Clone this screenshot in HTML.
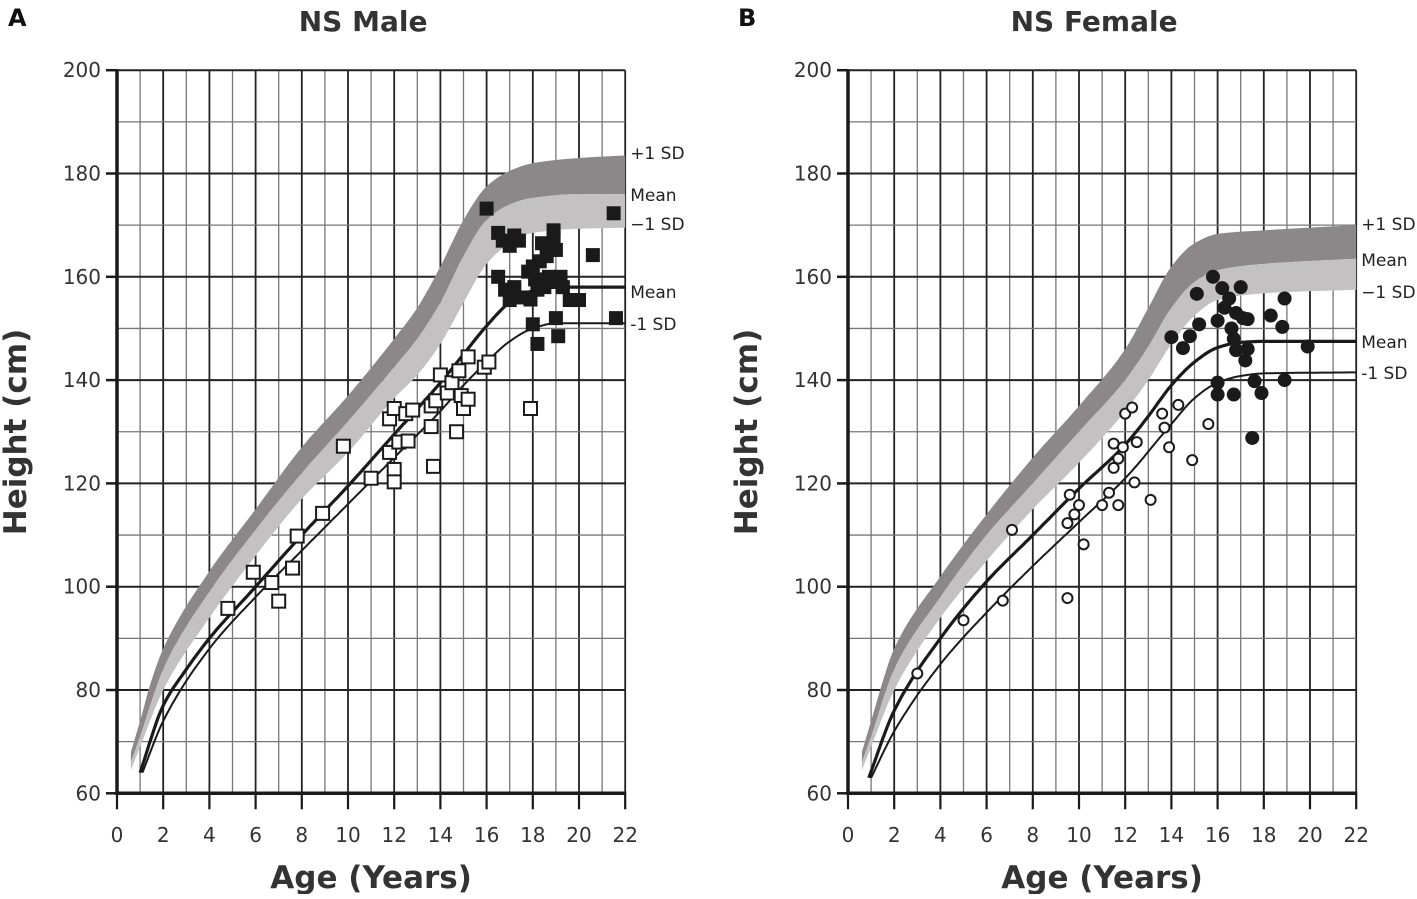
<!DOCTYPE html>
<html><head><meta charset="utf-8"><style>
body{margin:0;background:#fff;}
svg text{font-family:"DejaVu Sans","Liberation Sans",sans-serif;}
</style></head><body>
<svg id="chart" width="1417" height="894" viewBox="0 0 1417 894" xmlns="http://www.w3.org/2000/svg"></svg>
<script>
// ---- data ----
const xTicks = [0,2,4,6,8,10,12,14,16,18,20,22];
const yTicks = [60,80,100,120,140,160,180,200];
// Male reference bands (age, height)
const maleP1 = [[0.6,68],[1,74],[1.5,82],[2,88],[4,103],[6,115],[8,127],[10,137],[12,148],[13,154],[14,162],[15,171],[16,177.5],[17,180.5],[18,182],[20,183],[22,183.5]];
const maleRefMean = [[0.6,66],[1,71],[2,84],[4,99],[6,111],[8,122],[10,132],[12,142.5],[13,148],[14,155],[15,164],[16,171],[17,174],[18,175.3],[20,176],[22,176]];
const maleM1 = [[0.6,64.5],[1,69],[2,80],[4,94],[6,106],[8,117],[10,126],[12,136.5],[13,141],[14,147],[15,155],[16,162.5],[17,166.5],[18,168.5],[20,169.3],[22,169.5]];
const maleNSMean = [[1,64],[2,77],[3,84],[4,90],[6,100],[8,110],[10,119.5],[12,129.5],[14,139.5],[15,145],[16,150.5],[17,155],[18,157.3],[19,158],[22,158]];
const maleNSM1 = [[1.1,64],[2,74],[4,88],[6,98],[8,107],[10,116],[12,125],[14,134],[15,139],[16,143.5],[17,147.5],[18,150],[19,151],[22,151]];
const maleOpen = [[4.8,95.8],[5.9,102.8],[6.7,100.8],[7.0,97.2],[7.6,103.6],[7.8,109.8],[8.9,114.2],[9.8,127.2],[11.0,121],[11.8,126],[11.8,132.5],[12.0,134.5],[12.0,122.7],[12.0,120.3],[12.2,128],[12.5,133.5],[12.6,128.2],[12.8,134.2],[13.6,131],[13.6,135],[13.7,123.3],[13.8,136],[14.0,141],[14.3,137.5],[14.5,139.5],[14.7,130],[14.8,141.8],[14.9,137],[15.0,134.5],[15.2,136.3],[15.2,144.5],[15.9,142.5],[16.1,143.5],[17.9,134.5]];
const maleFilled = [[16.0,173.2],[21.5,172.3],[16.5,168.5],[16.7,167],[17.0,166],[17.2,168],[17.4,167],[16.5,160],[16.8,157.5],[17.0,155.5],[17.2,158],[17.5,156],[17.8,161],[18.0,162],[18.1,159.5],[18.2,157.5],[18.3,163],[18.4,166.5],[18.6,164],[18.9,167.5],[18.9,169],[19.0,165.2],[18.7,160],[19.0,159],[19.2,160],[19.3,158],[19.6,155.5],[18.0,150.8],[18.2,147],[19.0,152],[19.1,148.5],[20.0,155.5],[20.6,164.2],[21.6,152],[18.5,158],[17.9,155.6]];
// Female
const femP1 = [[0.6,68],[1,74],[2,88],[4,102],[6,114],[8,125],[10,135],[12,146],[13,154],[14,162],[15,166.5],[16,168.3],[18,169],[22,170]];
const femRefMean = [[0.6,66],[1,71],[2,84],[4,98],[6,110],[8,120],[10,130],[12,140],[13,146.5],[14,154],[15,159],[16,161.3],[18,162.5],[22,163.5]];
const femM1 = [[0.6,64.5],[1,69],[2,80],[4,94],[6,105],[8,115],[10,124],[12,134],[13,140],[14,147],[15,152.5],[16,155.5],[18,156.8],[22,157.5]];
const femNSMean = [[0.9,63],[2,76],[4,90],[6,101],[8,110],[10,119],[12,127.5],[13,133],[14,139],[15,143.5],[16,146.3],[17,147.3],[18,147.5],[22,147.5]];
const femNSM1 = [[1.0,63],[2,72],[4,85],[6,95],[8,104],[10,112.5],[12,121],[14,131.5],[15,136.5],[16,139.5],[17,140.8],[18,141.3],[22,141.5]];
const femOpen = [[3.0,83.2],[5.0,93.5],[6.7,97.3],[7.1,111],[9.5,97.8],[9.5,112.3],[9.6,117.8],[9.8,114],[10.0,115.8],[10.2,108.2],[11.0,115.8],[11.3,118.2],[11.5,123],[11.5,127.7],[11.7,115.8],[11.7,124.8],[11.9,127],[12.0,133.5],[12.3,134.7],[12.4,120.2],[12.5,128],[13.1,116.8],[13.6,133.5],[13.7,130.8],[13.9,127],[14.3,135.2],[14.9,124.5],[15.6,131.5]];
const femFilled = [[14.0,148.3],[14.5,146.2],[14.8,148.5],[15.1,156.7],[15.2,150.8],[15.8,160],[16.0,151.5],[16.0,139.5],[16.0,137.2],[16.2,157.8],[16.3,154],[16.5,155.8],[16.6,150],[16.7,148],[16.7,137.2],[16.8,145.8],[16.8,153],[17.0,158],[17.1,152],[17.2,143.8],[17.3,146],[17.5,128.8],[17.6,139.8],[17.9,137.5],[18.3,152.5],[18.8,150.3],[18.9,140],[18.9,155.8],[19.9,146.5],[17.3,151.8]];

const NS = "http://www.w3.org/2000/svg";
const svg = document.getElementById('chart');
function mk(tag, attrs, parent){const e=document.createElementNS(NS,tag);for(const k in attrs)e.setAttribute(k,attrs[k]);(parent||svg).appendChild(e);return e;}

// monotone cubic (Fritsch-Carlson) sampling in data space
function sample(pts){
  const n=pts.length, xs=pts.map(p=>p[0]), ys=pts.map(p=>p[1]);
  const d=[],m=[];
  for(let i=0;i<n-1;i++) d.push((ys[i+1]-ys[i])/(xs[i+1]-xs[i]));
  m[0]=d[0]; m[n-1]=d[n-2];
  for(let i=1;i<n-1;i++){
    if(d[i-1]*d[i]<=0) m[i]=0;
    else{const w1=2*(xs[i+1]-xs[i])+(xs[i]-xs[i-1]), w2=(xs[i+1]-xs[i])+2*(xs[i]-xs[i-1]);
      m[i]=(w1+w2)/(w1/d[i-1]+w2/d[i]);}
  }
  const out=[];
  for(let i=0;i<n-1;i++){
    const h=xs[i+1]-xs[i], steps=Math.max(2,Math.ceil(h/0.1));
    for(let s=0;s<steps;s++){
      const t=s/steps, t2=t*t, t3=t2*t;
      const y=(2*t3-3*t2+1)*ys[i]+(t3-2*t2+t)*h*m[i]+(-2*t3+3*t2)*ys[i+1]+(t3-t2)*h*m[i+1];
      out.push([xs[i]+t*h,y]);
    }
  }
  out.push([xs[n-1],ys[n-1]]);
  return out;
}

function panel(cfg){
  const x0=cfg.x0, xs=23.1, yb=793.3, ys=5.165;
  const X=a=>x0+a*xs, Y=h=>yb-(h-60)*ys;
  const P=arr=>sample(arr).map(p=>[X(p[0]),Y(p[1])]);
  const line=arr=>'M'+arr.map(p=>p[0].toFixed(1)+','+p[1].toFixed(1)).join(' L');
  const g=mk('g',{});
  
  
  for(let a=1;a<=22;a++){
    const l=mk('line',{x1:X(a),x2:X(a),y1:Y(200),y2:Y(60),stroke:a%2?'#777':'#222','stroke-width':a%2?1.3:1.8},g);
    
    
  }
  for(let h=70;h<=200;h+=10){
    const l=mk('line',{x1:X(0),x2:X(22),y1:Y(h),y2:Y(h),stroke:h%20?'#777':'#222','stroke-width':h%20?1.3:2},g);
    
    
  }
  const band=(top,bot,col,nm)=>{
    const t=P(top), b=P(bot).reverse();
    const p=mk('path',{d:line(t.concat(b))+' Z',fill:col,stroke:'none'},g);
    
    
  };
  band(cfg.p1,cfg.mean,'#8c8789','band-plus1sd-to-mean');
  band(cfg.mean,cfg.m1,'#c3c1c2','band-mean-to-minus1sd');
  const c1=mk('path',{d:line(P(cfg.nsMean)),fill:'none',stroke:'#1a1a1a','stroke-width':3.2,'stroke-linejoin':'round'},g);
  
  
  const c2=mk('path',{d:line(P(cfg.nsM1)),fill:'none',stroke:'#1a1a1a','stroke-width':2,'stroke-linejoin':'round'},g);
  
  
  const ax=mk('path',{d:`M${X(0)},${Y(200)-1} V${Y(60)} H${X(22)+1}`,fill:'none',stroke:'#1a1a1a','stroke-width':3.5},g);
  
  
  yTicks.forEach(h=>{
    mk('line',{x1:X(0)-11,x2:X(0),y1:Y(h),y2:Y(h),stroke:'#1a1a1a','stroke-width':2.5},g);
    const t=mk('text',{x:X(0)-16,y:Y(h)+7,'text-anchor':'end','font-size':20,fill:'#333'},g);
    t.textContent=h;
    
    
  });
  xTicks.forEach(a=>{
    mk('line',{x1:X(a),x2:X(a),y1:Y(60),y2:Y(60)+16,stroke:'#1a1a1a','stroke-width':2.2},g);
    const t=mk('text',{x:X(a),y:842,'text-anchor':'middle','font-size':20,fill:'#333'},g);
    t.textContent=a;
    
    
  });
  cfg.open.forEach(p=>{
    let m;
    if(cfg.shape==='sq') m=mk('rect',{x:X(p[0])-6.5,y:Y(p[1])-6.5,width:13,height:13,fill:'#fff',stroke:'#1a1a1a','stroke-width':2},g);
    else m=mk('circle',{cx:X(p[0]),cy:Y(p[1]),r:5,fill:'#fff',stroke:'#1a1a1a','stroke-width':2},g);
    
    
  });
  cfg.filled.forEach(p=>{
    let m;
    if(cfg.shape==='sq') m=mk('rect',{x:X(p[0])-7,y:Y(p[1])-7,width:14,height:14,fill:'#1a1a1a'},g);
    else m=mk('circle',{cx:X(p[0]),cy:Y(p[1]),r:7,fill:'#1a1a1a'},g);
    
    
  });
  cfg.labels.forEach(l=>{
    const t=mk('text',{x:X(22)+5,y:l[1],'font-size':17,fill:'#222'},g);
    t.textContent=l[0];
    
    
  });
  const cx=X(11);
  const tt=mk('text',{x:cx-8,y:31,'text-anchor':'middle','font-size':28,'font-weight':'bold',fill:'#333'},g);
  tt.textContent=cfg.title;
  
  
  const pl=mk('text',{x:cfg.letterX,y:26,'font-size':24,'font-weight':'bold',fill:'#111'},g);
  pl.textContent=cfg.letter;
  
  
  const xt=mk('text',{x:cx,y:888,'text-anchor':'middle','font-size':31,'font-weight':'bold',fill:'#333'},g);
  xt.textContent='Age (Years)';
  
  
  const yt=mk('text',{x:0,y:0,'text-anchor':'middle','font-size':31,'font-weight':'bold',fill:'#333',transform:`translate(${x0-91},432) rotate(-90)`},g);
  yt.textContent='Height (cm)';
  
  
}

panel({name:'panel-a-male',x0:117,p1:maleP1,mean:maleRefMean,m1:maleM1,nsMean:maleNSMean,nsM1:maleNSM1,open:maleOpen,filled:maleFilled,shape:'sq',
  labels:[['+1 SD',159],['Mean',201],['\u22121 SD',230],['Mean',298],['-1 SD',330]],title:'NS Male',letter:'A',letterX:8});
panel({name:'panel-b-female',x0:848,p1:femP1,mean:femRefMean,m1:femM1,nsMean:femNSMean,nsM1:femNSM1,open:femOpen,filled:femFilled,shape:'ci',
  labels:[['+1 SD',230],['Mean',266],['\u22121 SD',298],['Mean',348],['-1 SD',379]],title:'NS Female',letter:'B',letterX:738});
</script>
</body></html>
